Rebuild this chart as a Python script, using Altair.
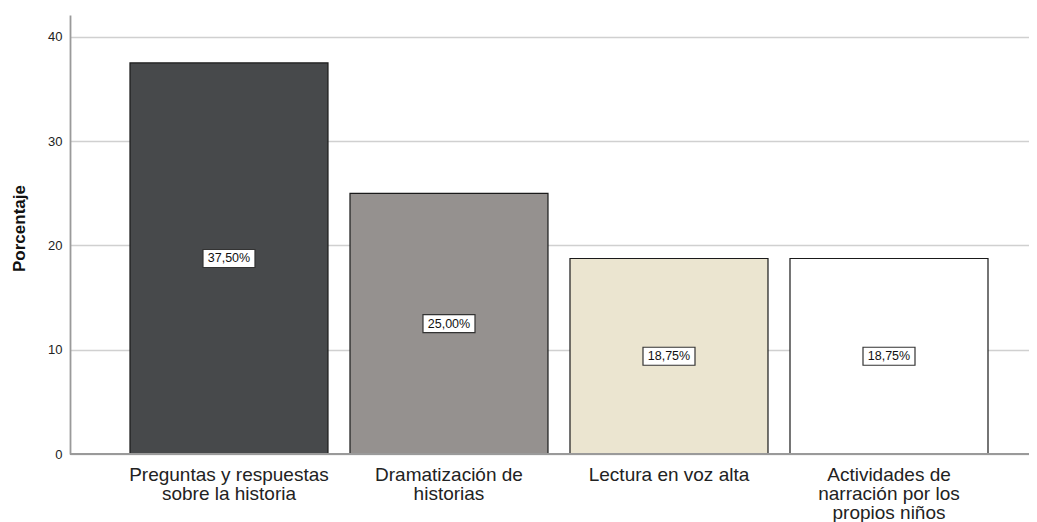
import altair as alt
import pandas as pd

categories = [
    "Preguntas y respuestas\nsobre la historia",
    "Dramatización de\nhistorias",
    "Lectura en voz alta",
    "Actividades de\nnarración por los\npropios niños",
]
values = [37.50, 25.00, 18.75, 18.75]
value_labels = ["37,50%", "25,00%", "18,75%", "18,75%"]
bar_colors = ["#47494b", "#95918f", "#ebe5d0", "#ffffff"]
y_ticks = [0, 10, 20, 30, 40]

df = pd.DataFrame({"cat": categories, "val": values, "lab": value_labels, "col": bar_colors})

FONT = "Liberation Sans"

x = alt.X(
    "cat:N",
    sort=categories,
    scale=alt.Scale(paddingInner=0.1, paddingOuter=0.2295, align=0.594),
    axis=alt.Axis(
        title=None,
        labelExpr="split(datum.value, '\\n')",
        labelFont=FONT,
        labelFontSize=19,
        labelLineHeight=19,
        labelColor="#222222",
        labelAngle=0,
        labelPadding=11,
        ticks=False,
        domain=False,
        grid=False,
        labelLimit=300,
    ),
)

y_scale = alt.Scale(domain=[0, 42.1], nice=False, zero=True)

bars = alt.Chart(df).mark_bar(stroke="#1a1a1a", strokeWidth=1.2).encode(
    x=x,
    y=alt.Y(
        "val:Q",
        scale=y_scale,
        axis=alt.Axis(
            title="Porcentaje",
            titleFont=FONT,
            titleFontSize=17,
            titleFontWeight="bold",
            titleColor="#111111",
            titleX=-51,
            titleY=213,
            titleAngle=-90,
            titleAlign="center",
            titleBaseline="middle",
            values=y_ticks,
            labelFont=FONT,
            labelFontSize=13,
            labelColor="#222222",
            labelPadding=8,
            ticks=False,
            grid=True,
            gridColor="#d0d0d0",
            gridWidth=1.3,
            domainColor="#9a9a9a",
            domainWidth=1.8,
        ),
    ),
    color=alt.Color("col:N", scale=None, legend=None),
)

baseline = alt.Chart(df).mark_rule(color="#9a9a9a", strokeWidth=1.8).encode(
    y=alt.value(439),
    x=alt.value(0),
    x2=alt.value(959),
)

boxes = alt.Chart(df).transform_calculate(half="datum.val / 2").mark_point(
    shape="M-1,-0.346L1,-0.346L1,0.346L-1,0.346Z",
    size=2704,
    filled=True,
    fill="#ffffff",
    stroke="#333333",
    strokeWidth=1.2,
    opacity=1,
).encode(
    x=alt.X("cat:N", sort=categories),
    y=alt.Y("half:Q", scale=y_scale),
)

texts = alt.Chart(df).transform_calculate(half="datum.val / 2").mark_text(
    font=FONT, fontSize=12.5, color="#111111", baseline="middle", align="center"
).encode(
    x=alt.X("cat:N", sort=categories),
    y=alt.Y("half:Q", scale=y_scale),
    text="lab:N",
)

chart = (
    alt.layer(bars, baseline, boxes, texts)
    .properties(
        width=959,
        height=439,
        autosize=alt.AutoSizeParams(type="none"),
        padding={"left": 62, "top": 7, "right": 0, "bottom": 68},
        background="#ffffff",
    )
    .configure_view(stroke=None)
)

chart.save("out.html", embed_options={"renderer": "svg", "actions": False})
